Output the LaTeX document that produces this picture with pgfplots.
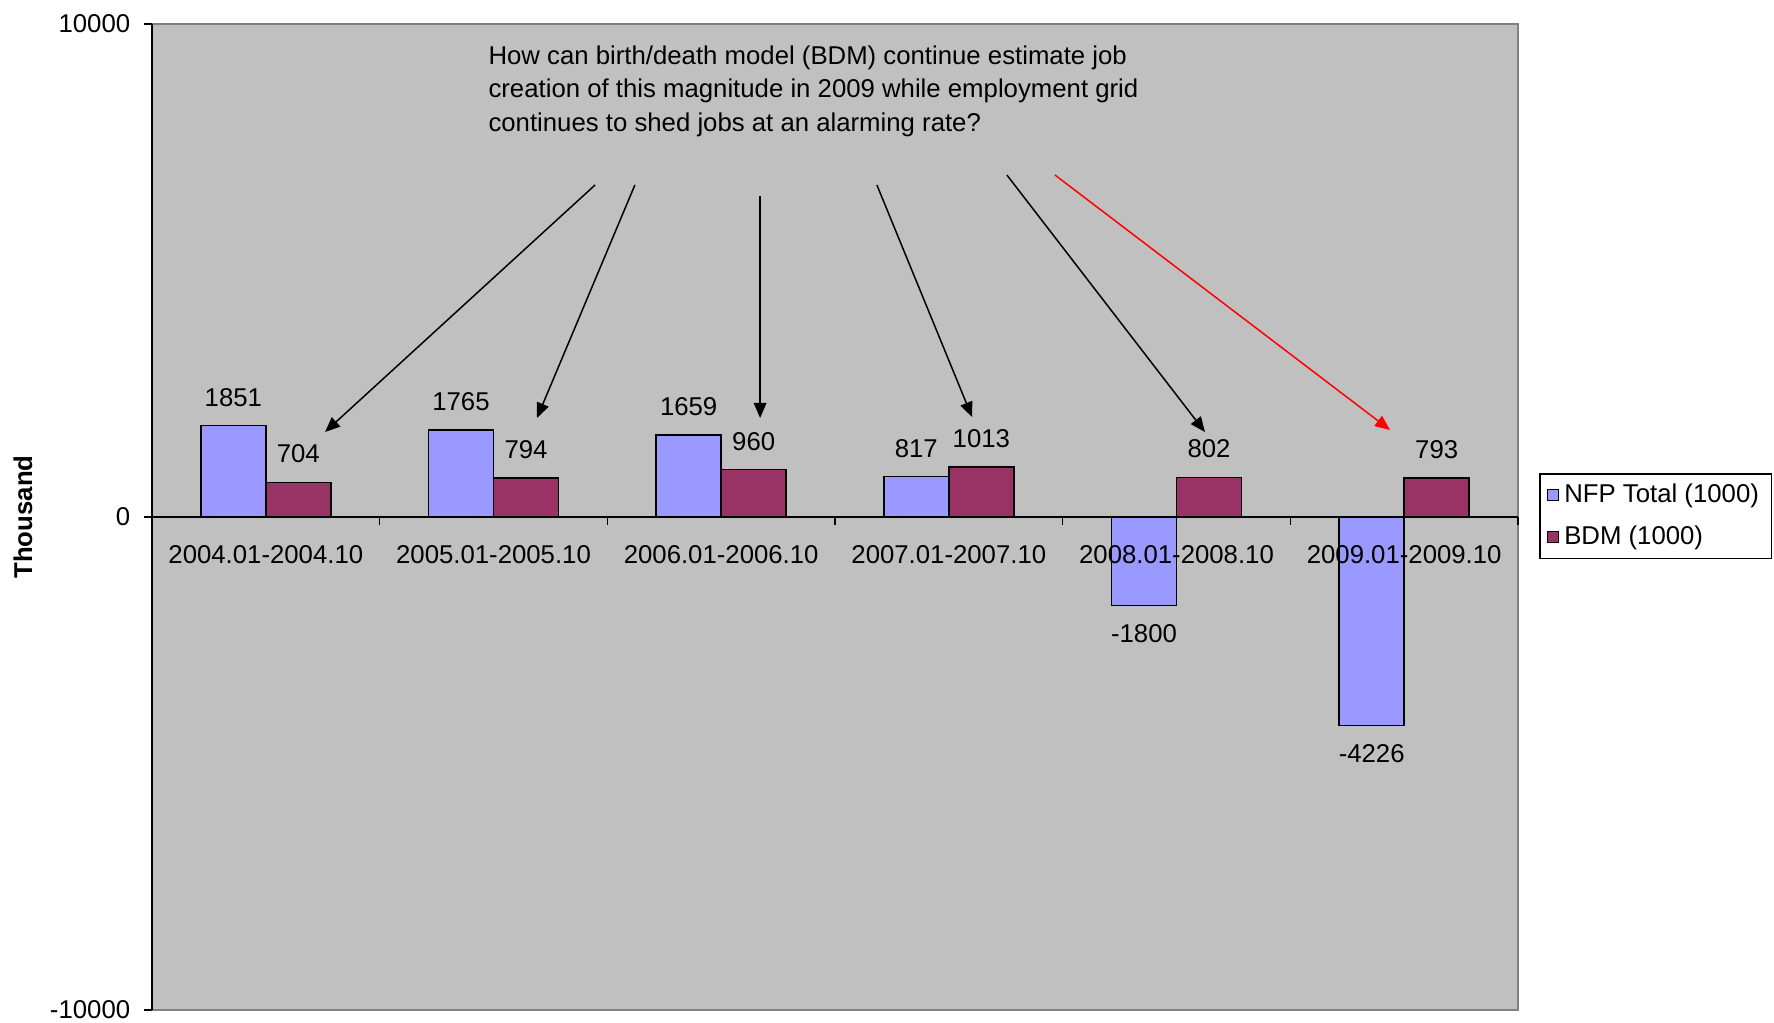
\documentclass[border=0pt]{standalone}
\usepackage{pgfplots}
\pgfplotsset{compat=1.18}
\usepackage{fontspec}
\setmainfont{Liberation Sans}
\usetikzlibrary{arrows.meta}
\definecolor{plotbg}{HTML}{C0C0C0}
\definecolor{nfp}{HTML}{9999FF}
\definecolor{bdm}{HTML}{993366}
\newcommand{\lf}{\fontsize{10.3}{12.4}\selectfont}

\begin{document}
\begin{tikzpicture}
\begin{axis}[
    name=ax,
    scale only axis,
    width=546.4pt, height=394.4pt,
    ybar=0pt, bar width=26pt,
    xmin=-0.5, xmax=5.5,
    ymin=-10000, ymax=10000,
    axis x line=middle, axis y line=left,
    axis line style={-, black, line width=0.6pt},
    axis background/.style={fill=plotbg, draw=gray, line width=0.6pt},
    axis on top,
    clip=false,
    hide obscured x ticks=false, hide obscured y ticks=false,
    tick align=outside,
    major tick length=3.2pt,
    tick style={black, line width=0.6pt},
    ytick={-10000,0,10000}, yticklabels={-10000,0,10000},
    yticklabel style={font=\lf, xshift=-2pt},
    xtick={-0.5,0.5,...,5.5}, xticklabels={},
    extra x ticks={0,1,2,3,4,5},
    extra x tick labels={2004.01-2004.10,2005.01-2005.10,2006.01-2006.10,2007.01-2007.10,2008.01-2008.10,2009.01-2009.10},
    extra x tick style={major tick length=0pt},
    xticklabel style={font=\lf, yshift=-7.8pt},
    every axis y label/.style={at={(rel axis cs:-0.0944,0.5)}, rotate=90, anchor=center, font=\lf\bfseries},
    ylabel={Thousand},
    point meta=y,
    nodes near coords,
    nodes near coords align=vertical,
    /pgf/number format/1000 sep={},
    /pgf/number format/assume math mode=true,
    every node near coord/.append style={font=\lf, inner ysep=7.4pt, inner xsep=0pt, text=black},
    legend style={at={(1.0154,0.5446)}, anchor=north west, draw=black, line width=0.6pt,
        fill=white, font=\lf, inner xsep=3pt, inner ysep=2pt, row sep=4pt},
    legend cell align=left,
    legend image code/.code={\draw[#1, draw=black, line width=0.4pt] (0pt,-2.2pt) rectangle (4.4pt,2.2pt);},
]
\addplot[fill=nfp, draw=black, line width=0.6pt] coordinates {
    (0,1851) (1,1765) (2,1659) (3,817) (4,-1800) (5,-4226)
};
\addplot[fill=bdm, draw=black, line width=0.6pt] coordinates {
    (0,704) (1,794) (2,960) (3,1013) (4,802) (5,793)
};
\legend{NFP Total (1000), BDM (1000)}

% annotation
\node[anchor=north west, align=left, inner sep=0pt, font=\fontsize{10.3}{13.4}\selectfont]
    at (axis cs:0.976,9574)
    {How can birth/death model (BDM) continue estimate job\\
     creation of this magnitude in 2009 while employment grid\\
     continues to shed jobs at an alarming rate?};
\draw[-{Triangle[length=6pt,width=5pt]}, line width=0.6pt] (axis cs:1.446,6734) -- (axis cs:0.260,1724);
\draw[-{Triangle[length=6pt,width=5pt]}, line width=0.6pt] (axis cs:1.621,6734) -- (axis cs:1.191,2008);
\draw[-{Triangle[length=6pt,width=5pt]}, line width=0.6pt] (axis cs:2.171,6511) -- (axis cs:2.171,2008);
\draw[-{Triangle[length=6pt,width=5pt]}, line width=0.6pt] (axis cs:2.684,6734) -- (axis cs:3.102,2028);
\draw[-{Triangle[length=6pt,width=5pt]}, line width=0.6pt] (axis cs:3.255,6937) -- (axis cs:4.125,1724);
\draw[-{Triangle[length=6pt,width=5pt]}, line width=0.6pt, red] (axis cs:3.466,6937) -- (axis cs:4.938,1765);
\end{axis}
\pgfresetboundingbox
\path ([xshift=-60.8pt,yshift=-4.8pt]ax.south west) rectangle ([xshift=102.4pt,yshift=9.6pt]ax.north east);
\end{tikzpicture}
\end{document}
